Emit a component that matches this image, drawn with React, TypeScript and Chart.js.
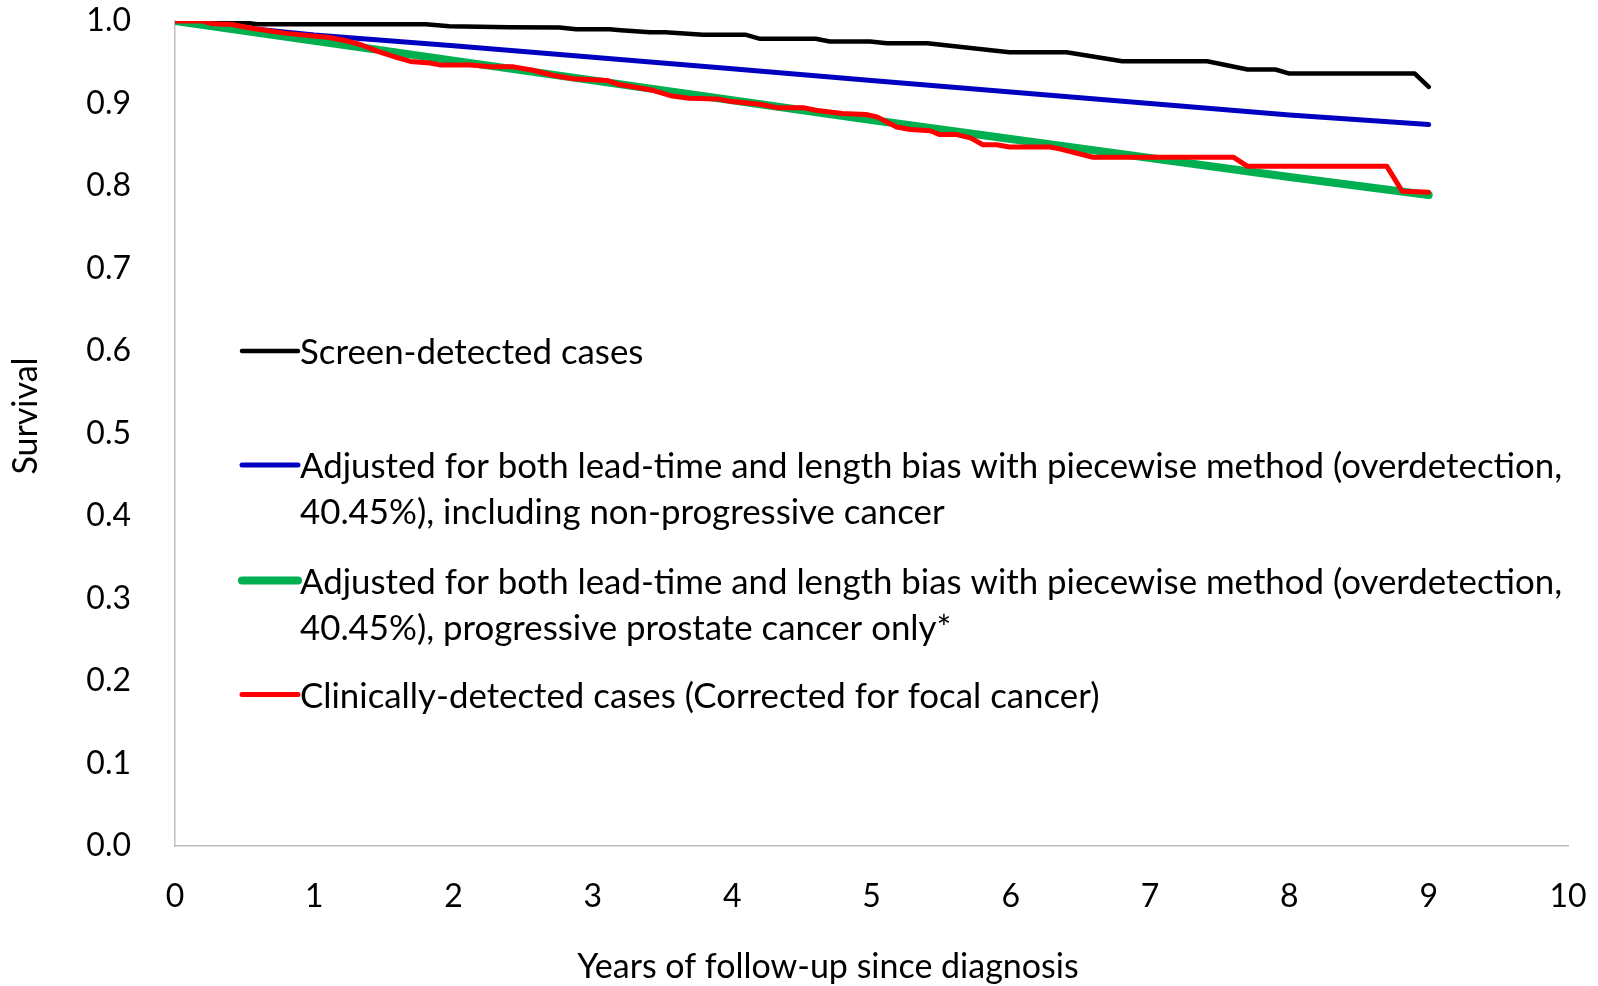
import React, { useEffect, useRef } from "react";
import { Chart, registerables } from "chart.js";

Chart.register(...registerables);

// ---- Data ----
const screenYears = [0, 0.42, 0.59, 1.8, 1.97, 2.4, 2.76, 2.88, 3.12, 3.2, 3.41, 3.52, 3.79, 4.1, 4.2, 4.6, 4.7, 4.99, 5.11, 5.4, 5.99, 6.4, 6.8, 7.41, 7.7, 7.9, 8.0, 8.9, 9.0];
const screenSurvival = [1.0, 1.0, 0.996, 0.996, 0.9937, 0.9925, 0.992, 0.99, 0.99, 0.9889, 0.9864, 0.9864, 0.9832, 0.9832, 0.9784, 0.9784, 0.9751, 0.9751, 0.9731, 0.9731, 0.9621, 0.9621, 0.9512, 0.9512, 0.9412, 0.9412, 0.9363, 0.9363, 0.9201];

const allYears = [0, 1, 2, 3, 4, 5, 6, 7, 8, 9];
const adjustedAllSurvival = [1.0, 0.983, 0.97, 0.956, 0.942, 0.928, 0.914, 0.9, 0.886, 0.8745];

const progressiveYears = [0, 1, 2, 3, 4, 5, 6, 7, 8, 9];
const progressiveSurvival = [1.0, 0.976, 0.952, 0.928, 0.904, 0.88, 0.857, 0.834, 0.811, 0.789];

const clinicalYears = [0, 0.2, 0.27, 0.41, 0.56, 0.8, 1.11, 1.23, 1.33, 1.45, 1.59, 1.69, 1.83, 1.9, 2.12, 2.28, 2.43, 2.57, 2.71, 2.86, 3.1, 3.19, 3.43, 3.57, 3.69, 3.89, 4.0, 4.2, 4.32, 4.51, 4.61, 4.79, 4.96, 5.04, 5.18, 5.28, 5.42, 5.49, 5.61, 5.71, 5.8, 5.9, 5.99, 6.28, 6.35, 6.59, 7.6, 7.7, 8.7, 8.81, 9.0];
const clinicalSurvival = [1.0, 1.0, 0.9966, 0.9958, 0.991, 0.985, 0.98, 0.976, 0.9715, 0.9634, 0.956, 0.951, 0.949, 0.9468, 0.9468, 0.9444, 0.9444, 0.9403, 0.9342, 0.93, 0.928, 0.923, 0.916, 0.909, 0.9064, 0.9056, 0.9023, 0.899, 0.895, 0.895, 0.8915, 0.8878, 0.8866, 0.8838, 0.8716, 0.8684, 0.867, 0.8623, 0.8623, 0.8583, 0.85, 0.85, 0.8473, 0.8473, 0.845, 0.8348, 0.8348, 0.8238, 0.8238, 0.7935, 0.7923];

const seriesLabels = [
  "Screen-detected cases",
  "Adjusted for both lead-time and length bias with piecewise method (overdetection, 40.45%), including non-progressive cancer",
  "Adjusted for both lead-time and length bias with piecewise method (overdetection, 40.45%), progressive prostate cancer only*",
  "Clinically-detected cases (Corrected for focal cancer)",
];
const legendLines = [
  ["Screen-detected cases"],
  ["Adjusted for both lead-time and length bias with piecewise method (overdetection,", "40.45%), including non-progressive cancer"],
  ["Adjusted for both lead-time and length bias with piecewise method (overdetection,", "40.45%), progressive prostate cancer only*"],
  ["Clinically-detected cases (Corrected for focal cancer)"],
];
const seriesColors = ["#000000", "#0000C0", "#00B050", "#FF0000"];
const seriesWidths = [4.5, 5, 8, 5];

const xTickMin = 0;
const xTickMax = 10;
const yTickMin = 0;
const yTickMax = 1;
const xTitle = "Years of follow-up since diagnosis";
const yTitle = "Survival";

const FONT = "Lato, 'Open Sans', sans-serif";

const toPoints = (xs: number[], ys: number[]) => xs.map((x, i) => ({ x, y: ys[i] }));

const insideLegend = {
  id: "insideLegend",
  afterDatasetsDraw(chart: any) {
    const { ctx, chartArea } = chart;
    const lineStart = chartArea.left + 67;
    const lineEnd = lineStart + 56;
    const textX = lineEnd + 2;
    const rowOffsets = [330, 444, 559.5, 673.5];
    const lineGap = 46;
    ctx.save();
    ctx.font = `35px ${FONT}`;
    ctx.fillStyle = "#000";
    ctx.textBaseline = "middle";
    ctx.textAlign = "left";
    legendLines.forEach((lines, i) => {
      const y = chartArea.top + rowOffsets[i];
      ctx.beginPath();
      ctx.strokeStyle = seriesColors[i];
      ctx.lineWidth = seriesWidths[i];
      ctx.lineCap = "round";
      ctx.moveTo(lineStart, y);
      ctx.lineTo(lineEnd, y);
      ctx.stroke();
      lines.forEach((t, j) => {
        ctx.save();
        ctx.translate(textX, y + j * lineGap + 2);
        ctx.scale(0.995, 1);
        ctx.fillText(t, 0, 0);
        ctx.restore();
      });
    });
    ctx.restore();
  },
};

const axisTitles = {
  id: "axisTitles",
  afterDraw(chart: any) {
    const { ctx, chartArea } = chart;
    ctx.save();
    ctx.font = `34px ${FONT}`;
    ctx.fillStyle = "#000";
    ctx.textAlign = "center";
    ctx.textBaseline = "middle";
    // x-axis title
    ctx.fillText(xTitle, chartArea.left + 653, chartArea.bottom + 121);
    // y-axis title
    ctx.translate(chartArea.left - 149, chartArea.top + 395);
    ctx.rotate(-Math.PI / 2);
    ctx.fillText(yTitle, 0, 0);
    ctx.restore();
  },
};

export default function App() {
  const canvasRef = useRef<HTMLCanvasElement | null>(null);

  useEffect(() => {
    const canvas = canvasRef.current;
    if (!canvas) return;
    const series = [
      toPoints(screenYears, screenSurvival),
      toPoints(allYears, adjustedAllSurvival),
      toPoints(progressiveYears, progressiveSurvival),
      toPoints(clinicalYears, clinicalSurvival),
    ];
    const chart = new Chart(canvas, {
      type: "line",
      data: {
        datasets: series.map((data, i) => ({
          label: seriesLabels[i],
          data,
          borderColor: seriesColors[i],
          backgroundColor: seriesColors[i],
          borderWidth: seriesWidths[i],
          pointRadius: 0,
          tension: 0,
          fill: false,
          borderCapStyle: "round",
          borderJoinStyle: "round",
          order: 4 - i,
        })),
      },
      options: {
        animation: false,
        responsive: true,
        maintainAspectRatio: false,
        layout: { padding: { top: 21, right: 30, left: 0, bottom: 0 } },
        plugins: {
          legend: { display: false },
          tooltip: { enabled: false },
        },
        scales: {
          x: {
            type: "linear",
            min: xTickMin,
            max: xTickMax,
            ticks: {
              stepSize: 1,
              padding: 31,
              color: "#000",
              font: { family: FONT, size: 32 },
            },
            grid: { display: false, drawTicks: false },
            border: { display: true, color: "#BFBFBF", width: 1.5 },
            afterFit: (scale: any) => {
              scale.height = 140;
              scale.paddingLeft = 0;
              scale.paddingRight = 0;
            },
          },
          y: {
            type: "linear",
            min: yTickMin,
            max: yTickMax,
            ticks: {
              stepSize: 0.1,
              padding: 44,
              color: "#000",
              font: { family: FONT, size: 32 },
              callback: (v: any) => Number(v).toFixed(1),
            },
            grid: { display: false, drawTicks: false },
            border: { display: true, color: "#BFBFBF", width: 1.5 },
            afterFit: (scale: any) => {
              scale.width = 175;
              scale.paddingTop = 0;
              scale.paddingBottom = 0;
            },
          },
        },
      },
      plugins: [insideLegend, axisTitles],
    });
    return () => chart.destroy();
  }, []);

  return (
    <div style={{ position: "fixed", left: 0, top: 0, width: 1598, height: 986, background: "#fff" }}>
      <canvas ref={canvasRef} />
    </div>
  );
}
